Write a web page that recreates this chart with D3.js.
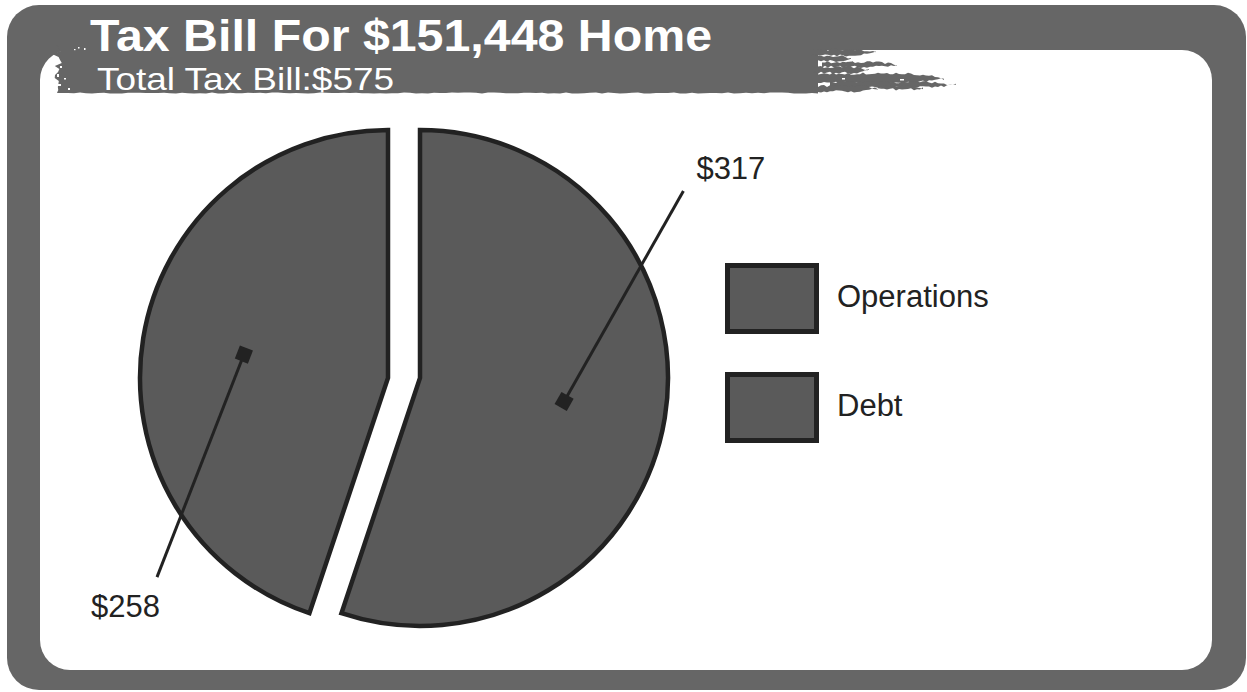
<!DOCTYPE html>
<html>
<head>
<meta charset="utf-8">
<script src="https://cdn.jsdelivr.net/npm/d3@7"></script>
<style>
  html, body { margin: 0; padding: 0; background: #fff; }
  svg { display: block; }
  text { font-family: "Liberation Sans", Arial, Helvetica, sans-serif; }
</style>
</head>
<body>
<script>
// ---- data ----
const categories = ["Operations", "Debt"];
const values = [317, 258];
const valueLabels = ["$317", "$258"];
const titleText = "Tax Bill For $151,448 Home";
const subtitleText = "Total Tax Bill:$575";

// ---- layout ----
const W = 1247, H = 692;
const cx = 404, cy = 378, R = 248, explode = 16, markerR = 146;
const sliceFill = "#5a5a5a", ink = "#222", frame = "#666";
// leader line end relative to each slice's mid angle (degrees, radius) and text placement
const callouts = [
  { rot: -44.6, r: 323, anchor: "start", dx: 13, dy: -12 },
  { rot: -50, r: 305, anchor: "end", dx: 3, dy: 40 }
];

const svg = d3.select("body").append("svg")
  .attr("width", W).attr("height", H);

// ---- frame ----
svg.append("rect").attr("x", 7).attr("y", 5).attr("width", 1239).attr("height", 685)
  .attr("rx", 32).attr("fill", frame);
svg.append("rect").attr("x", 40).attr("y", 50).attr("width", 1172).attr("height", 620)
  .attr("rx", 30).attr("fill", "#fff");

// ---- brushed title banner ----
const hash = i => { const s = Math.sin(i * 12.9898 + 78.233) * 43758.5453; return s - Math.floor(s); };
const banner = svg.append("g").attr("fill", frame);
{
  // main body with a ragged left edge
  const pts = [[70, 44], [818, 44], [818, 93]];
  for (let x = 818; x >= 64; x -= 6) pts.push([x, 93 + (hash(x) - 0.5) * 1.2]);
  let k = 0;
  for (let y = 93; y >= 50; y -= 3) { pts.push([52 + hash(y * 3.1 + k++) * 10, y]); }
  pts.push([56, 44]);
  banner.append("path").attr("d", d3.line()(pts) + "Z");

  // streaks trailing off to the right
  const streaks = [
    [810, 876, 48.5, 56.5],
    [815, 852, 55, 62],
    [822, 898, 61, 68],
    [812, 870, 66, 74],
    [815, 944, 72.5, 84],
    [830, 958, 81, 88.5],
    [812, 880, 85, 92.5],
    [878, 925, 85.5, 90.5]
  ];
  streaks.forEach((s, si) => {
    const [x0, x1, y0, y1] = s;
    const top = [], bot = [];
    for (let x = x0; x <= x1; x += 3) {
      const t = (x - x0) / (x1 - x0);
      const taper = t > 0.75 ? (t - 0.75) * 4 * (y1 - y0) * 0.35 : 0;
      top.push([x, y0 + hash(x + si * 31) * 2.4 + taper]);
      bot.push([x, y1 - hash(x * 1.7 + si * 17) * 2.4 - taper]);
    }
    banner.append("path").attr("d", d3.line()(top.concat(bot.reverse())) + "Z");
  });

  // white flecks where the brush thins out
  const flecks = [[60, 66, 2, 2], [64, 78, 2, 1.5], [58, 84, 3, 2], [68, 88, 2, 2], [57, 74, 2, 3],
                  [848, 60, 4, 1.5], [868, 70, 5, 1.5], [900, 79, 4, 1.5], [842, 78, 3, 1.5]];
  svg.append("g").attr("fill", "#fff").selectAll("rect").data(flecks).join("rect")
    .attr("x", d => d[0]).attr("y", d => d[1]).attr("width", d => d[2]).attr("height", d => d[3]);
  const specks = [[78, 47, 1.5, 1.5], [84, 48, 1.5, 2], [74, 49, 1.5, 1.2]];
  svg.append("g").attr("fill", "#fff").selectAll("rect").data(specks).join("rect")
    .attr("x", d => d[0]).attr("y", d => d[1]).attr("width", d => d[2]).attr("height", d => d[3]);
}

svg.append("text").attr("x", 90).attr("y", 51)
  .attr("font-size", 44).attr("font-weight", "bold").attr("fill", "#fff")
  .attr("textLength", 622).attr("lengthAdjust", "spacingAndGlyphs")
  .text(titleText);
svg.append("text").attr("x", 97).attr("y", 90)
  .attr("font-size", 32).attr("fill", "#fff")
  .attr("textLength", 297).attr("lengthAdjust", "spacingAndGlyphs")
  .text(subtitleText);

// ---- pie ----
const pie = d3.pie().sort(null).value(d => d)(values);
const arc = d3.arc().innerRadius(0).outerRadius(R);
const markerArc = d3.arc().innerRadius(markerR).outerRadius(markerR);
const midAngle = d => (d.startAngle + d.endAngle) / 2;
const shiftX = d => midAngle(d) < Math.PI ? explode : -explode;

const slices = svg.append("g").selectAll("g").data(pie).join("g")
  .attr("transform", d => `translate(${cx + shiftX(d)},${cy})`);

slices.append("path")
  .attr("d", arc)
  .attr("fill", sliceFill)
  .attr("stroke", ink)
  .attr("stroke-width", 4.5)
  .attr("stroke-linejoin", "miter");

// callouts: square marker at the slice, leader line out to the value
slices.each(function (d, i) {
  const g = d3.select(this);
  const c = callouts[i];
  const [mx, my] = markerArc.centroid(d);
  const a = midAngle(d) + c.rot * Math.PI / 180;
  const ex = c.r * Math.sin(a), ey = -c.r * Math.cos(a);
  const deg = Math.atan2(ey - my, ex - mx) * 180 / Math.PI;
  g.append("line")
    .attr("x1", mx).attr("y1", my).attr("x2", ex).attr("y2", ey)
    .attr("stroke", ink).attr("stroke-width", 3);
  g.append("rect")
    .attr("x", -7).attr("y", -7).attr("width", 14).attr("height", 14)
    .attr("fill", ink)
    .attr("transform", `translate(${mx},${my}) rotate(${deg})`);
  g.append("text")
    .attr("x", ex + c.dx).attr("y", ey + c.dy)
    .attr("text-anchor", c.anchor)
    .attr("font-size", 31).attr("fill", ink)
    .text(valueLabels[i]);
});

// ---- legend ----
const legend = svg.append("g").attr("transform", "translate(727.5,265.5)");
const items = legend.selectAll("g").data(categories).join("g")
  .attr("transform", (d, i) => `translate(0,${i * 109})`);
items.append("rect")
  .attr("width", 89).attr("height", 66)
  .attr("fill", sliceFill).attr("stroke", ink).attr("stroke-width", 5);
items.append("text")
  .attr("x", 109.5).attr("y", 41.5)
  .attr("font-size", 31).attr("fill", ink)
  .text(d => d);
</script>
</body>
</html>
